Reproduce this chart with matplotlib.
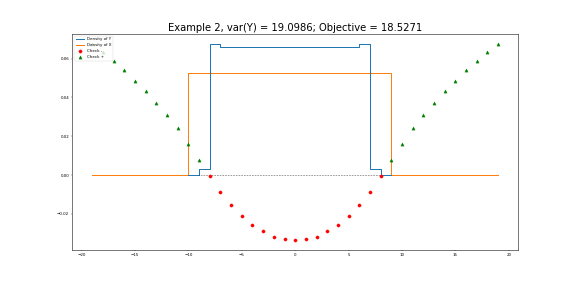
import matplotlib
matplotlib.use("Agg")
import matplotlib.pyplot as plt
import numpy as np

# Density of Y on its grid (steps-post heights on [x_i, x_{i+1}])
y_grid = list(range(-10, 10))
dens_y = [0.0, 0.0033, 0.0677] + [0.0657] * 13 + [0.0677, 0.0033, 0.0, 0.0]
# Density of X: uniform on [-10, 9]
x_grid = list(range(-19, 20))
dens_x = ([0.0] * 9 + [0.0526] * 19 + [0.0] * 11)

# Check - (red)
check_neg_x = list(range(-8, 9))
check_neg_y = [-0.0007, -0.0085, -0.0152, -0.0209, -0.0255, -0.0290, -0.0317, -0.0332, -0.0336,
               -0.0332, -0.0317, -0.0290, -0.0255, -0.0209, -0.0152, -0.0085, -0.0007]
# Check + (green)
check_pos_x = list(range(-19, -8)) + list(range(9, 20))
check_pos_y = [0.0675, 0.0636, 0.0588, 0.0540, 0.0485, 0.0431, 0.0371, 0.0308, 0.0241, 0.0162, 0.0079,
               0.0079, 0.0162, 0.0241, 0.0308, 0.0371, 0.0431, 0.0485, 0.0540, 0.0588, 0.0636, 0.0675]

zero_x = [-9, 8]
zero_y = [0.0, 0.0]

title = "Example 2, var(Y) = 19.0986; Objective = 18.5271"

fig = plt.figure(figsize=(20, 281 / 28.8), dpi=28.8)
ax = fig.add_subplot(111)
ax.plot(y_grid, dens_y, drawstyle="steps-post", color="C0", label="Density of Y", lw=2.5, zorder=3)
ax.plot(x_grid, dens_x, drawstyle="steps-post", color="C1", label="Density of X", lw=2.5, zorder=2)
ax.plot(check_neg_x, check_neg_y, "ro", ms=8, label="Check -", zorder=4)
ax.plot(check_pos_x, check_pos_y, "g^", ms=8, label="Check +", zorder=4)
ax.plot(zero_x, zero_y, "k:", lw=1.5, zorder=3.5)
ax.set_title(title, fontsize=25)
for s in ax.spines.values():
    s.set_linewidth(1.3)
ax.legend(loc="upper left")
fig.savefig("out.png", dpi=28.8)
